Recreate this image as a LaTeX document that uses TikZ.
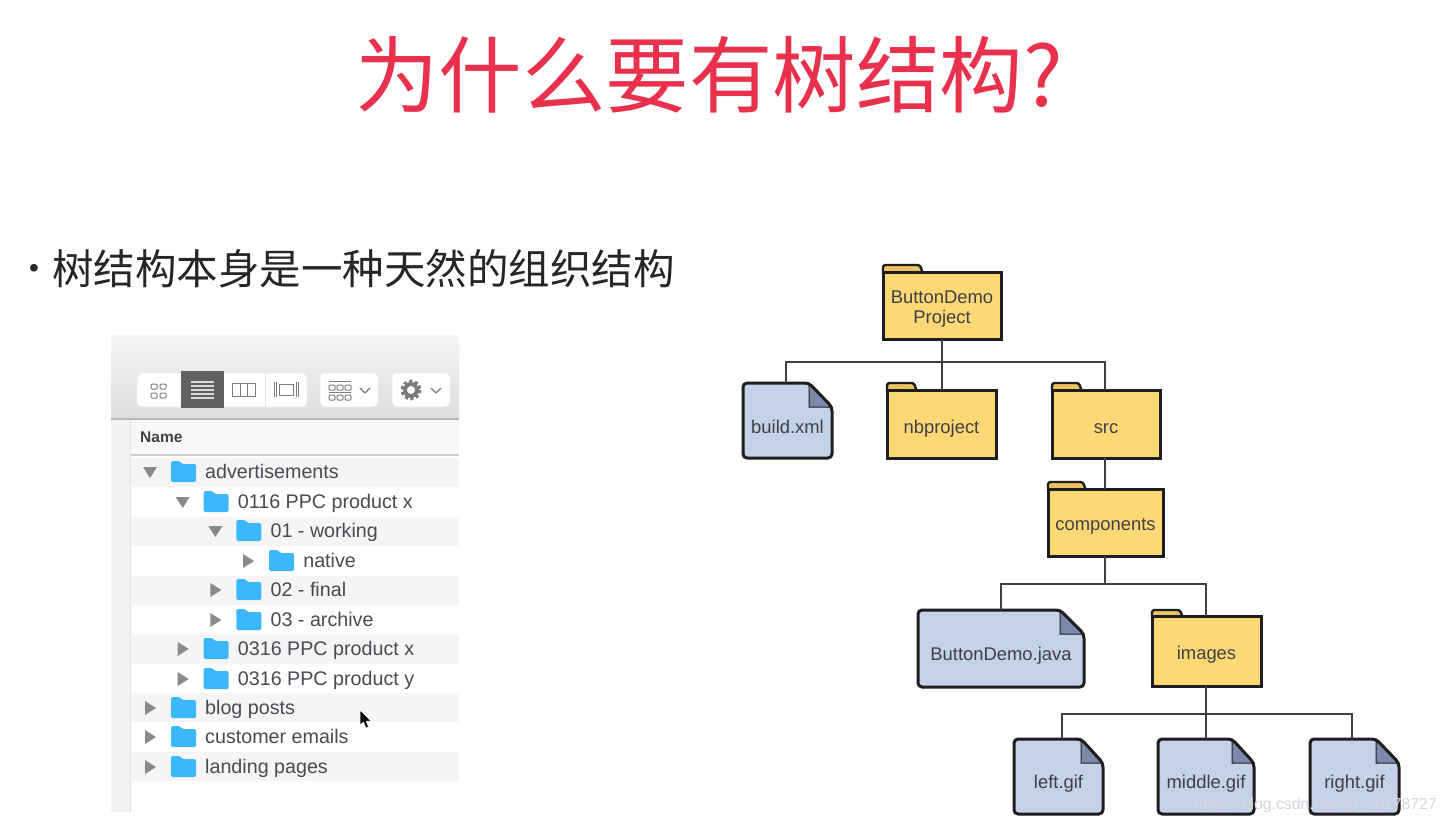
\documentclass[tikz,border=0pt]{standalone}
\usepackage{fontspec}
\setmainfont{Liberation Sans}
\newfontfamily\cjk{Noto Sans CJK SC}
\definecolor{titlered}{HTML}{E9304C}
\definecolor{ink}{HTML}{1E1E1E}
\definecolor{fold}{HTML}{FFD876}
\definecolor{foldtab}{HTML}{EBC262}
\definecolor{doc}{HTML}{C4D2E8}
\definecolor{docfold}{HTML}{7A89AC}
\definecolor{lbl}{HTML}{3F3F45}
\definecolor{blue}{HTML}{3DB7FB}
\definecolor{band}{HTML}{F6F5F6}
\definecolor{tri}{HTML}{8A8A8A}
\definecolor{rowtext}{HTML}{4A4A52}
\definecolor{iconc}{HTML}{7C7C7C}
\definecolor{markc}{HTML}{D3D6DC}
\tikzset{
  x=1pt,y=-1pt,
  boxshape/.style={inner sep=0pt,outer sep=0pt,rectangle},
  outline/.style={draw=ink,line width=3pt,line join=miter},
  labeltext/.style={inner sep=0pt,text=lbl,font=\fontsize{18.4}{20}\selectfont,align=center,anchor=base},
  conn/.style={draw=ink!85,line width=1.8pt},
  rowlabel/.style={inner sep=0pt,anchor=base west,text=rowtext,font=\fontsize{19.7}{20}\selectfont},
  tool/.style={fill=white,rounded corners=5pt,draw=black!8,line width=.6pt},
  glyph/.style={draw=iconc,line width=1pt},
}
% name x1 y1 x2 y2 tabright tabtop textbaseline text
\newcommand\folderbox[9]{%
  \filldraw[outline,line width=2.4pt,fill=foldtab,rounded corners=2.5pt] (#2,#3+2) -- (#2,#7) -- (#6-3,#7) -- (#6,#3+2);
  \node[boxshape,minimum width={(#4-#2)*1pt},minimum height={(#5-#3)*1pt}] (#1) at ({(#2+#4)/2},{(#3+#5)/2}) {};
  \fill[fold] (#2,#3) rectangle (#4,#5);
  \draw[outline] (#2,#3) -- (#4,#3) -- (#4,#5) -- (#2,#5) -- cycle;
  \node[labeltext] (#1t) at ({(#2+#4)/2},#8) {#9};
}
% name x1 y1 x2 y2 foldx foldy textbaseline text
\newcommand\filebox[9]{%
  \node[boxshape,minimum width={(#4-#2)*1pt},minimum height={(#5-#3)*1pt}] (#1) at ({(#2+#4)/2},{(#3+#5)/2}) {};
  \fill[fill=doc,rounded corners=4pt] (#2,#3) -- (#6,#3) -- (#4,#7) -- (#4,#5) -- (#2,#5) -- cycle;
  \filldraw[outline,fill=docfold,line width=1pt] (#6,#3) -- (#6,#7) -- (#4,#7) -- cycle;
  \draw[outline,line join=round,rounded corners=4pt] (#2+5,#3) -- (#6,#3) -- (#4,#7) -- (#4,#5) -- (#2,#5) -- (#2,#3) -- (#2+6,#3);
  \node[labeltext] (#1t) at ({(#2+#4)/2},#8) {#9};
}
% name y level text open(1)/closed(0)
\newcommand\finderrow[5]{%
  \pgfmathsetmacro\fx{171+32.7*#3}\pgfmathsetmacro\tx{150+32.7*#3}
  \ifnum#5=1
    \fill[tri] (\tx-7,#2-5) -- (\tx+7,#2-5) -- (\tx,#2+6) -- cycle;
  \else
    \fill[tri] (\tx-5,#2-7) -- (\tx+6,#2) -- (\tx-5,#2+7) -- cycle;
  \fi
  \fill[blue,rounded corners=1.5pt] (\fx,#2+10) -- (\fx,#2-11) -- (\fx+9,#2-11) -- (\fx+11,#2-8) -- (\fx+25,#2-8) -- (\fx+25,#2+10) -- cycle;
  \node[rowlabel] (#1) at (\fx+34,#2+6) {#4};
}
\begin{document}
\begin{tikzpicture}
\useasboundingbox (0,0) rectangle (1447,824);
\fill[white] (0,0) rectangle (1447,824);
% title and bullet
\node[inner sep=0pt,text=titlered,font=\cjk\fontsize{83.5}{90}\selectfont] (title) at (709,75) {为什么要有树结构?};
\node[inner sep=0pt,font=\fontsize{28}{28}\selectfont,text=black!85] (dot) at (34,271) {•};
\node[inner sep=0pt,anchor=west,font=\cjk\fontsize{41.5}{46}\selectfont,text=black!85] (bullet) at (52,269) {树结构本身是一种天然的组织结构};
% finder window
\shade[top color=black!4,bottom color=black!13] (111,335) rectangle (459,418);
\fill[black!28] (111,417.5) rectangle (459,419.5);
\fill[black!5] (111,419.5) rectangle (131,812);
\fill[black!12] (130,419.5) rectangle (131,812);
\fill[black!3] (131,419.5) rectangle (459,454);
\fill[black!20] (131,454) rectangle (459,456);
\foreach \yy in {458,517,576,635,693,752} \fill[band] (131,\yy) rectangle (459,\yy+29.4);
\node[inner sep=0pt,anchor=west,font=\bfseries\fontsize{15.5}{18}\selectfont,text=black!75] (namehdr) at (140,437) {Name};
% toolbar
\path[tool] (137,373) rectangle (307,407);
\path[tool] (320,373) rectangle (378,407);
\path[tool] (392,373) rectangle (450,407);
\fill[black!62] (181,371) rectangle (224,408);
\draw[black!10,line width=.8pt] (265,373) -- (265,407);
\foreach \ix/\iy in {151/384,160/384,151/393,160/393} \draw[glyph,rounded corners=1pt] (\ix,\iy) rectangle (\ix+6,\iy+5);
\foreach \iy in {382,386,390,394,398} \draw[white!85!black,line width=1.2pt] (191,\iy) -- (214,\iy);
\draw[glyph] (232,383) rectangle (255,396) (240,383) -- (240,396) (247,383) -- (247,396);
\draw[glyph] (279,384) rectangle (293,395);
\draw[glyph] (274,382) -- (274,397) (276.5,382) -- (276.5,397) (296,382) -- (296,397) (298.5,382) -- (298.5,397);
\draw[glyph] (329,381) -- (351,381);
\foreach \ix in {329,337,345} \foreach \iy in {385,395} \draw[glyph,rounded corners=1pt] (\ix,\iy) rectangle (\ix+6,\iy+5);
\draw[glyph] (329,392) -- (351,392);
\draw[iconc,line width=1.3pt,line cap=round,line join=round] (360,388) -- (365,393) -- (370,388);
\draw[iconc,line width=1.3pt,line cap=round,line join=round] (431,388) -- (436,393) -- (441,388);
\draw[iconc,line width=3.6pt,dash pattern=on 3pt off 2.5pt] (411,390) circle (8.6);
\draw[iconc,line width=4pt] (411,390) circle (6);
% rows
\finderrow{r1}{472}{0}{advertisements}{1}
\finderrow{r2}{502}{1}{0116 PPC product x}{1}
\finderrow{r3}{531}{2}{01 - working}{1}
\finderrow{r4}{561}{3}{native}{0}
\finderrow{r5}{590}{2}{02 - final}{0}
\finderrow{r6}{620}{2}{03 - archive}{0}
\finderrow{r7}{649}{1}{0316 PPC product x}{0}
\finderrow{r8}{679}{1}{0316 PPC product y}{0}
\finderrow{r9}{708}{0}{blog posts}{0}
\finderrow{r10}{737}{0}{customer emails}{0}
\finderrow{r11}{767}{0}{landing pages}{0}
% cursor
\filldraw[black,draw=white,line width=.5pt,line join=round] (360,710) -- (360,725) -- (363.5,722) -- (366,728) -- (368.5,727) -- (366,721) -- (371,721) -- cycle;
% tree nodes
\folderbox{root}{883}{272}{1001}{339}{923}{265}{323}{ButtonDemo\\Project}
\filebox{build}{743}{383}{832}{458}{809}{407}{433}{build.xml}
\folderbox{nb}{887}{390}{996}{458}{917}{383}{433}{nbproject}
\folderbox{src}{1052}{390}{1160}{458}{1082}{383}{433}{src}
\folderbox{comp}{1048}{489}{1163}{556}{1086}{482}{530}{components}
\filebox{java}{918}{610}{1084}{687}{1060}{634}{660}{ButtonDemo.java}
\folderbox{img}{1152}{616}{1261}{686}{1183}{610}{659}{images}
\filebox{left}{1014}{739}{1103}{814}{1081}{763}{788}{left.gif}
\filebox{mid}{1158}{739}{1254}{814}{1232}{763}{788}{middle.gif}
\filebox{right}{1310}{739}{1399}{814}{1376}{763}{788}{right.gif}
% connectors
\coordinate (busAl) at (786,362);
\coordinate (busAr) at (1105,362);
\coordinate (busBl) at (1001,584);
\coordinate (busBr) at (1206,584);
\coordinate (busCl) at (1062,714);
\coordinate (busCr) at (1352,714);
\draw[conn] (root.south) -- (root.south |- nb.north);
\draw[conn] (build.north -| busAl) -- (busAl) -- (busAr) -- (src.north -| busAr);
\draw[conn] (src.south -| busAr) -- (comp.north -| busAr);
\draw[conn] (comp.south -| busAr) -- (busAr |- busBr);
\draw[conn] (java.north -| busBl) -- (busBl) -- (busBr) -- (img.north -| busBr);
\draw[conn] (img.south -| busBr) -- (mid.north -| busBr);
\draw[conn] (left.north -| busCl) -- (busCl) -- (busCr) -- (right.north -| busCr);
% watermark
\node[inner sep=0pt,anchor=east,text=markc,font=\fontsize{15.8}{20}\selectfont] (mark) at (1437,805) {https://blog.csdn.net/qq\_36178727};
\end{tikzpicture}
\end{document}
